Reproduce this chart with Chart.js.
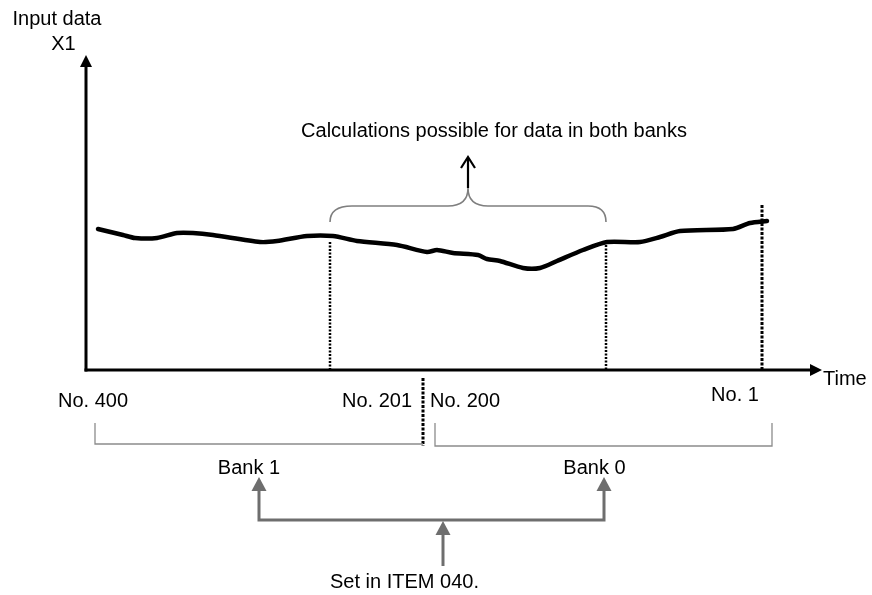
<!DOCTYPE html>
<html>
<head>
<meta charset="utf-8">
<script src="https://cdn.jsdelivr.net/npm/chart.js@4"></script>
<style>
  html, body { margin: 0; padding: 0; background: #ffffff; }
  #wrap { width: 872px; height: 595px; position: relative; }
</style>
</head>
<body>
<div id="wrap"><canvas id="c"></canvas></div>
<script>
// ---- Data ----
// Time axis positions of the sampled signal (abstract units), and input value X1
const curveX = [12, 37, 49, 71, 91, 107, 127, 174, 191, 221, 247, 271, 311, 341, 351, 367, 392, 401, 414, 437, 454, 471, 497, 521, 554, 574, 594, 647, 664, 681];
const curveY = [141, 135, 132, 132, 137, 137, 135, 128, 129, 134, 134, 129, 125, 118, 120, 117, 115, 111, 109, 102, 102, 109, 120, 128, 128, 133, 139, 141, 147, 149];

// Text labels
const axisTitleY = ["Input data", "X1"];
const axisTitleX = "Time";
const sampleLabels = ["No. 400", "No. 201", "No. 200", "No. 1"];
const bankLabels = ["Bank 1", "Bank 0"];
const calcText = "Calculations possible for data in both banks";
const itemText = "Set in ITEM 040.";

// Scale extents
const xMax = 726;
const yMax = 310;

// ---- Annotation geometry (in scale units) ----
const geo = {
  yArrowTip: 315, xArrowTip: 736,
  axisTitleYPos: [[-29, 345], [-22.5, 320]],
  axisTitleXPos: [737, -15],
  samplePos: [[7, -37], [291, -37], [379, -37], [649, -31]],
  calcPos: [408, 233],
  braceL: 244, braceR: 520, braceMid: 382, braceBot: 148, braceTop: 164, braceTip: 182, braceArrowTop: 213,
  dotted: [ {x: 244, y0: 128, y1: 0, w: 2.5, dash: [2, 1.5]},
            {x: 520, y0: 125, y1: 0, w: 2.5, dash: [2, 1.5]},
            {x: 676, y0: 165, y1: 0, w: 3, dash: [3, 1.5]},
            {x: 337, y0: -8, y1: -76, w: 3, dash: [3, 1.5]} ],
  bankBr: [ {x0: 9, x1: 337, top: -53, bot: -74, rightTick: false},
            {x0: 349, x1: 686, top: -53, bot: -76, rightTick: true} ],
  bankPos: [[163, -104], [508.5, -104]],
  grayArrows: {xL: 173, xR: 518, yBar: -150, yTip: -107, xC: 357, yC0: -196, yCTip: -151},
  itemPos: [318.5, -218]
};

const FONT = '20px "Liberation Sans", Arial, Helvetica, sans-serif';

const annot = {
  id: 'annot',
  afterDraw(chart) {
    const ctx = chart.ctx;
    const xs = chart.scales.x, ys = chart.scales.y;
    const px = v => xs.getPixelForValue(v);
    const py = v => ys.getPixelForValue(v);
    ctx.save();

    // Axes
    ctx.strokeStyle = '#000'; ctx.fillStyle = '#000'; ctx.lineWidth = 3; ctx.setLineDash([]);
    const ox = px(0), oy = py(0);
    ctx.beginPath(); ctx.moveTo(ox, oy + 1.5); ctx.lineTo(ox, py(geo.yArrowTip) + 10); ctx.stroke();
    ctx.beginPath(); ctx.moveTo(ox, py(geo.yArrowTip)); ctx.lineTo(ox - 6, py(geo.yArrowTip) + 12); ctx.lineTo(ox + 6, py(geo.yArrowTip) + 12); ctx.closePath(); ctx.fill();
    ctx.beginPath(); ctx.moveTo(ox - 1.5, oy); ctx.lineTo(px(geo.xArrowTip) - 10, oy); ctx.stroke();
    ctx.beginPath(); ctx.moveTo(px(geo.xArrowTip), oy); ctx.lineTo(px(geo.xArrowTip) - 12, oy - 6); ctx.lineTo(px(geo.xArrowTip) - 12, oy + 6); ctx.closePath(); ctx.fill();

    // Dotted verticals
    ctx.strokeStyle = '#000';
    geo.dotted.forEach(d => {
      ctx.lineWidth = d.w; ctx.setLineDash(d.dash);
      const x = Math.round(px(d.x));
      ctx.beginPath(); ctx.moveTo(x, py(d.y0)); ctx.lineTo(x, py(d.y1)); ctx.stroke();
    });
    ctx.setLineDash([]);

    // Curly brace
    ctx.strokeStyle = '#7f7f7f'; ctx.lineWidth = 1.6;
    const bL = px(geo.braceL), bR = px(geo.braceR), bM = px(geo.braceMid);
    const yB = py(geo.braceBot), yT = py(geo.braceTop), yTip = py(geo.braceTip);
    ctx.beginPath();
    ctx.moveTo(bL, yB);
    ctx.quadraticCurveTo(bL, yT, bL + 22, yT);
    ctx.lineTo(bM - 20, yT);
    ctx.quadraticCurveTo(bM, yT, bM, yTip);
    ctx.quadraticCurveTo(bM, yT, bM + 20, yT);
    ctx.lineTo(bR - 18, yT);
    ctx.quadraticCurveTo(bR, yT, bR, yB);
    ctx.stroke();
    // Black open arrow from brace tip
    ctx.strokeStyle = '#000'; ctx.lineWidth = 2.2;
    const aTop = py(geo.braceArrowTop);
    ctx.beginPath(); ctx.moveTo(bM, yTip); ctx.lineTo(bM, aTop + 1); ctx.stroke();
    ctx.beginPath(); ctx.moveTo(bM - 7, aTop + 11); ctx.lineTo(bM, aTop); ctx.lineTo(bM + 7, aTop + 11); ctx.stroke();

    // Bank brackets
    ctx.strokeStyle = '#8c8c8c'; ctx.lineWidth = 1.3;
    geo.bankBr.forEach(b => {
      ctx.beginPath();
      ctx.moveTo(px(b.x0), py(b.top)); ctx.lineTo(px(b.x0), py(b.bot)); ctx.lineTo(px(b.x1), py(b.bot));
      if (b.rightTick) ctx.lineTo(px(b.x1), py(b.top));
      ctx.stroke();
    });

    // Gray arrows
    const g = geo.grayArrows;
    ctx.strokeStyle = '#6e6e6e'; ctx.fillStyle = '#6e6e6e'; ctx.lineWidth = 3;
    ctx.beginPath();
    ctx.moveTo(px(g.xL), py(g.yTip) + 12); ctx.lineTo(px(g.xL), py(g.yBar));
    ctx.lineTo(px(g.xR), py(g.yBar)); ctx.lineTo(px(g.xR), py(g.yTip) + 12);
    ctx.stroke();
    ctx.beginPath(); ctx.moveTo(px(g.xC), py(g.yC0)); ctx.lineTo(px(g.xC), py(g.yCTip) + 12); ctx.stroke();
    const head = (x, y) => { ctx.beginPath(); ctx.moveTo(x, y); ctx.lineTo(x - 7.5, y + 14); ctx.lineTo(x + 7.5, y + 14); ctx.closePath(); ctx.fill(); };
    head(px(g.xL), py(g.yTip)); head(px(g.xR), py(g.yTip)); head(px(g.xC), py(g.yCTip));

    // Texts
    ctx.fillStyle = '#000'; ctx.font = FONT; ctx.textBaseline = 'alphabetic';
    ctx.textAlign = 'center';
    axisTitleY.forEach((t, i) => ctx.fillText(t, px(geo.axisTitleYPos[i][0]), py(geo.axisTitleYPos[i][1])));
    sampleLabels.forEach((t, i) => ctx.fillText(t, px(geo.samplePos[i][0]), py(geo.samplePos[i][1])));
    ctx.fillText(calcText, px(geo.calcPos[0]), py(geo.calcPos[1]));
    bankLabels.forEach((t, i) => ctx.fillText(t, px(geo.bankPos[i][0]), py(geo.bankPos[i][1])));
    ctx.fillText(itemText, px(geo.itemPos[0]), py(geo.itemPos[1]));
    ctx.textAlign = 'left';
    ctx.fillText(axisTitleX, px(geo.axisTitleXPos[0]), py(geo.axisTitleXPos[1]));

    ctx.restore();
  }
};

new Chart(document.getElementById('c'), {
  type: 'line',
  data: {
    datasets: [{
      data: curveX.map((x, i) => ({ x: x, y: curveY[i] })),
      borderColor: '#000',
      borderWidth: 4.5,
      borderCapStyle: 'round',
      borderJoinStyle: 'round',
      pointRadius: 0,
      tension: 0.25,
      fill: false
    }]
  },
  options: {
    responsive: true,
    maintainAspectRatio: false,
    animation: false,
    layout: { padding: { left: 86, right: 60, top: 60, bottom: 225 } },
    plugins: { legend: { display: false }, tooltip: { enabled: false }, title: { display: false } },
    scales: {
      x: { type: 'linear', min: 0, max: xMax, display: false },
      y: { type: 'linear', min: 0, max: yMax, display: false }
    },
    elements: { line: { capBezierPoints: true } }
  },
  plugins: [annot]
});
</script>
</body>
</html>
